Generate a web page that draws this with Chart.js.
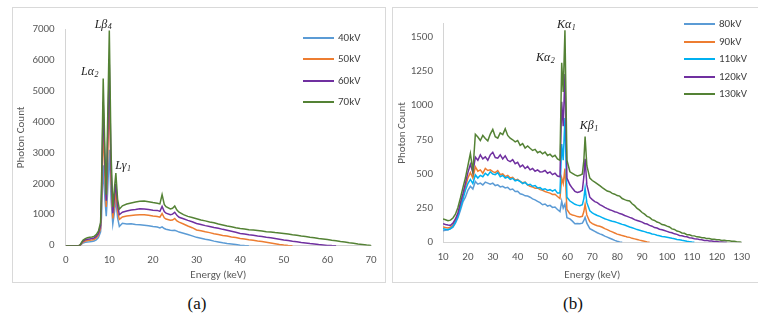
<!DOCTYPE html>
<html><head><meta charset="utf-8">
<script src="https://cdn.jsdelivr.net/npm/chart.js@4/dist/chart.umd.min.js"></script>
<style>
html,body{margin:0;padding:0;background:#fff;width:758px;height:321px;overflow:hidden;font-family:Carlito,Lato,sans-serif;}
.box{position:absolute;border:1px solid #d9d9d9;box-sizing:border-box;}
#boxA{left:12px;top:7px;width:374px;height:276px;}
#boxB{left:392px;top:7px;width:366px;height:276px;border-right:none;}
canvas{position:absolute;}
#cA{left:12px;top:7px;}
#cB{left:392px;top:7px;}
.legend{position:absolute;font-size:11px;color:#404040;}
.legend .row{position:absolute;left:0;height:14px;white-space:nowrap;}
.legend .sw{position:absolute;left:0;top:6px;width:31px;height:2px;}
.legend .tx{position:absolute;left:35px;top:0;line-height:14px;}
.cap{position:absolute;top:294px;width:40px;margin-left:-20px;text-align:center;font-family:"Liberation Serif","DejaVu Serif",serif;font-size:17px;color:#111;}
</style></head>
<body>
<div class="box" id="boxA"></div>
<div class="box" id="boxB"></div>
<canvas id="cA" width="374" height="276"></canvas>
<canvas id="cB" width="366" height="276"></canvas>
<div class="legend" id="legA" style="left:303px;top:31px;"></div>
<div class="legend" id="legB" style="left:684px;top:17px;"></div>
<div class="cap" style="left:197px;">(a)</div>
<div class="cap" style="left:573px;">(b)</div>
<script>
// ---------- Panel (a) data ----------
const ENERGY_A = [0,1,2,3,3.3,3.7,4,4.5,5,5.5,6,6.5,7,7.5,8,8.2,8.6,9.0,9.3,9.6,10,10.4,10.8,11.2,11.5,11.9,12.3,
  13,14,15,16,17,18,19,20,21,
  21.6,22.1,22.6,23,
  24,24.5,25,25.5,26,
  27,28,29,30,31,32,33,34,35,36,37,38,39,40,41,42,43,44,45,46,47,48,49,50,
  51,52,53,54,55,56,57,58,59,60,61,62,63,64,65,66,67,68,69,70];
const KV40 = [0,0,0,0,10,60,90,110,120,125,135,150,190,260,450,900,2600,1500,950,1700,3100,1500,700,1100,1500,900,620,
  725,705,712,688,676,662,645,618,602,
  575,610,555,530,
  500,490,500,470,440,
  400,362,318,270,242,208,182,148,122,96,74,56,36,18,5,0];
const KV50 = [0,0,0,0,15,80,120,150,170,175,185,200,250,340,560,1300,3900,2200,1250,2700,4800,2100,880,1350,1750,1100,850,
  930,962,978,995,1002,1000,985,958,942,
  920,1040,900,860,
  820,830,880,800,760,
  702,638,582,510,482,448,422,388,362,333,312,284,262,235,216,193,176,154,136,114,90,66,40,20,5,0];
const KV60 = [0,0,0,0,20,100,150,190,210,220,230,250,300,400,650,1600,4650,2600,1450,3300,5850,2500,1050,1600,2000,1300,1000,
  1080,1118,1152,1168,1192,1188,1172,1148,1140,
  1110,1270,1100,1050,
  1000,1020,1080,980,920,
  872,818,772,715,682,648,622,588,562,528,502,468,432,395,376,352,336,312,296,272,256,232,211,185,166,143,126,106,90,70,55,36,22,10,3,0];
const KV70 = [0,0,0,0,25,120,180,230,260,270,280,300,360,470,750,1850,5400,3000,1650,3900,6950,3000,1250,1900,2350,1500,1180,
  1290,1345,1378,1412,1432,1445,1418,1392,1370,
  1350,1650,1330,1260,
  1190,1210,1280,1150,1080,
  1002,948,908,870,828,802,768,742,700,672,638,612,578,555,542,518,506,488,472,452,442,424,412,395,
  376,352,336,314,296,272,256,232,216,200,178,162,138,122,98,82,58,42,22,8];
const X_TICKS_A = [0,10,20,30,40,50,60,70];
const Y_TICKS_A = [0,1000,2000,3000,4000,5000,6000,7000];
const SERIES_A = ['40kV','50kV','60kV','70kV'];

// ---------- Panel (b) data ----------
const ENERGY_B = [10,11,12,13,14,15,16,17,18,19,20,21,22,23,24,25,26,27,28,29,30,31,32,33,34,35,36,37,38,39,
  40,41,42,43,44,45,46,47,48,49,50,51,52,53,54,55,56,
  57,57.7,58.3,59,59.8,
  61,62,63,64,65,66,
  66.6,67.1,67.8,
  69,70,71,72,73,74,75,76,77,78,79,80,81,82,83,84,85,86,87,88,89,90,91,92,93,94,95,96,97,98,99,
  100,101,102,103,104,105,106,107,108,109,110,111,112,113,114,115,116,117,118,119,120,
  121,122,123,124,125,126,127,128,129,130];
const KV80 = [85,88,92,98,110,140,180,235,295,330,
  380,410,390,445,425,433,420,440,433,425,
  433,415,420,405,410,398,402,385,390,372,
  374,355,350,340,338,330,318,310,300,290,
  275,280,265,270,255,258,240,
  225,300,250,280,180,
  171,155,136,138,135,140,
  160,183,140,
  100,90,80,70,62,55,45,38,30,22,14,8,3,0];
const KV90 = [112,108,105,110,125,160,205,270,330,400,
  470,510,470,552,520,530,505,540,525,530,
  517,510,525,495,500,481,490,470,475,455,
  460,445,435,440,420,410,405,395,398,385,
  380,372,365,360,350,352,335,
  320,470,430,540,240,
  207,200,195,188,185,190,
  225,278,200,
  150,136,128,121,117,110,100,93,84,76,
  68,60,55,49,45,39,36,29,25,21,16,12,7,3,0];
const KV110 = [100,95,92,100,115,147,190,252,315,380,
  430,460,430,493,470,490,480,505,490,516,
  500,495,510,480,490,470,478,460,468,450,
  455,445,430,438,420,425,410,415,398,400,
  386,392,380,385,375,385,360,
  360,719,600,909,330,
  302,290,278,272,268,275,
  320,397,290,
  230,216,205,196,190,181,172,166,160,154,
  150,144,138,131,127,119,112,106,100,93,
  88,83,78,72,68,61,58,52,48,43,
  40,37,34,29,26,21,19,15,12,8,
  5,2,0];
const KV120 = [136,130,126,124,140,171,215,288,355,430,
  510,570,510,623,600,640,610,625,600,640,
  659,620,615,640,610,633,600,590,605,575,
  585,552,565,540,555,530,540,520,530,515,
  516,525,505,515,495,505,485,
  480,1028,850,1231,470,
  421,395,373,365,370,380,
  480,611,420,
  330,312,298,290,276,266,255,246,238,232,
  224,219,210,205,196,190,182,176,166,160,
  154,148,138,134,124,118,108,104,96,92,
  86,80,74,70,62,58,50,48,42,40,
  34,32,26,25,20,19,14,14,10,9,
  6,5,3,2,1,0];
const KV130 = [171,165,158,162,178,205,255,324,400,470,
  560,650,520,790,770,745,782,760,742,792,
  826,772,762,800,788,830,782,762,750,735,
  745,709,722,690,705,688,672,680,655,665,
  647,660,635,645,625,636,610,
  600,1314,1100,1552,600,
  516,505,493,485,490,500,
  600,773,560,
  470,452,440,428,414,400,388,375,370,358,
  352,342,338,320,312,305,302,282,268,248,
  235,218,206,190,182,166,160,148,142,130,
  126,118,112,98,94,82,78,68,66,56,
  55,48,47,40,39,33,33,27,27,22,
  23,18,19,14,15,11,12,8,7,4,
  2,0];
const X_TICKS_B = [10,20,30,40,50,60,70,80,90,100,110,120,130];
const Y_TICKS_B = [0,250,500,750,1000,1250,1500];
const SERIES_B = ['80kV','90kV','110kV','120kV','130kV'];

// peak labels (energy, count) in data coordinates
const PEAKS_A = [
  {t:'Lβ', s:'4', e:8.55, c:7150},
  {t:'Lα', s:'2', e:5.45, c:5600},
  {t:'Lγ', s:'1', e:13.1, c:2570}
];
const PEAKS_B = [
  {t:'Kα', s:'1', e:59.45, c:1588},
  {t:'Kα', s:'2', e:51.05, c:1352},
  {t:'Kβ', s:'1', e:68.6, c:852}
];

const BLUE='#5B9BD5', ORANGE='#ED7D31', PURPLE='#7030A0', GREEN='#548235', CYAN='#00B0F0';
const TXT='#595959', AXIS='#d4d4d4';
const FONT='Carlito, Lato, sans-serif';

const peakPlugin = {
  id:'peaks',
  afterDatasetsDraw(chart, args, opts){
    const {ctx} = chart; const x = chart.scales.x, y = chart.scales.y;
    (opts.items||[]).forEach(it=>{
      const px = x.getPixelForValue(it.e), py = y.getPixelForValue(it.c);
      ctx.save();
      ctx.fillStyle = '#222'; ctx.textBaseline = 'middle';
      const f1 = 'italic 12px "Liberation Serif", "DejaVu Serif", serif';
      const f2 = 'italic 8px "Liberation Serif", "DejaVu Serif", serif';
      ctx.font = f1; const w1 = ctx.measureText(it.t).width;
      ctx.font = f2; const w2 = ctx.measureText(it.s).width;
      const sx = px - (w1+w2)/2;
      ctx.font = f1; ctx.fillText(it.t, sx, py);
      ctx.font = f2; ctx.fillText(it.s, sx + w1 + 0.5, py + 3);
      ctx.restore();
    });
  }
};

function makeDatasets(E, arrays, labels, colors){
  return arrays.map((arr,i)=>({
    label: labels[i],
    data: arr.map((v,j)=>({x:E[j], y:v})),
    borderColor: colors[i], backgroundColor: colors[i],
    borderWidth: 1.5, pointRadius: 0, tension: 0, fill: false,
    order: arrays.length - 1 - i
  }));
}

function makeChart(id, E, arrays, labels, colors, xr, yr, xTicks, yTicks, geom, peaks){
  return new Chart(document.getElementById(id), {
    type:'line',
    data:{datasets: makeDatasets(E, arrays, labels, colors)},
    plugins:[peakPlugin],
    options:{
      responsive:false, animation:false, devicePixelRatio:1,
      layout:{padding:{top:geom.top, right:geom.right, left:0, bottom:0}},
      plugins:{legend:{display:false}, tooltip:{enabled:false}, peaks:{items:peaks}},
      scales:{
        x:{type:'linear', min:xr[0], max:xr[1],
          afterBuildTicks: a=>{a.ticks = xTicks.map(v=>({value:v}));},
          afterFit: s=>{s.height = geom.xh;},
          grid:{display:false, drawTicks:false},
          border:{display:true, color:AXIS, width:1},
          ticks:{color:TXT, font:{family:FONT, size:11}, padding:geom.xpad, maxRotation:0, callback:v=>String(v)},
          title:{display:true, text:'Energy (keV)', color:TXT, font:{family:FONT, size:11}, padding:{top:0,bottom:geom.xtp}}
        },
        y:{type:'linear', min:yr[0], max:yr[1],
          afterBuildTicks: a=>{a.ticks = yTicks.map(v=>({value:v}));},
          afterFit: s=>{s.width = geom.yw;},
          grid:{display:false, drawTicks:false},
          border:{display:true, color:AXIS, width:1},
          ticks:{color:TXT, font:{family:FONT, size:11}, padding:geom.ypad, callback:v=>String(v)},
          title:{display:true, text:'Photon Count', color:TXT, font:{family:FONT, size:11}, padding:{top:geom.ytp,bottom:0}}
        }
      }
    }
  });
}

const chartA = makeChart('cA', ENERGY_A, [KV40,KV50,KV60,KV70], SERIES_A, [BLUE,ORANGE,PURPLE,GREEN],
  [0,70],[0,7000], X_TICKS_A, Y_TICKS_A,
  {top:22, right:15, xh:37.3, yw:53.7, xpad:8, xtp:1, ypad:11, ytp:3}, PEAKS_A);
const chartB = makeChart('cB', ENERGY_B, [KV80,KV90,KV110,KV120,KV130], SERIES_B, [BLUE,ORANGE,CYAN,PURPLE,GREEN],
  [10,130],[0,1600], X_TICKS_B, Y_TICKS_B,
  {top:11.3, right:8, xh:40.7, yw:51, xpad:8, xtp:1, ypad:10, ytp:4}, PEAKS_B);

function buildLegend(el, chart, spacing){
  chart.data.datasets.forEach((ds,i)=>{
    const r = document.createElement('div'); r.className='row'; r.style.top=(i*spacing)+'px';
    const sw = document.createElement('div'); sw.className='sw'; sw.style.background=ds.borderColor;
    const tx = document.createElement('div'); tx.className='tx'; tx.textContent=ds.label;
    r.appendChild(sw); r.appendChild(tx); el.appendChild(r);
  });
}
buildLegend(document.getElementById('legA'), chartA, 21.3);
buildLegend(document.getElementById('legB'), chartB, 17.5);
</script>
</body></html>
